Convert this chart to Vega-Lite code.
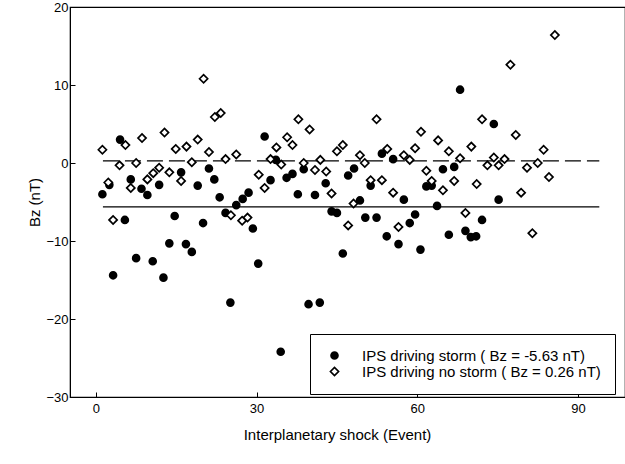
{
  "$schema": "https://vega.github.io/schema/vega-lite/v6.json",
  "width": 555,
  "height": 390,
  "autosize": {"type": "none"},
  "padding": {"left": 70, "top": 7, "right": 0, "bottom": 67},
  "background": "white",
  "config": {
    "view": {"stroke": "black", "strokeWidth": 1.2},
    "font": "Liberation Sans",
    "axis": {"grid": false, "domainColor": "black", "tickColor": "black", "labelColor": "black", "titleColor": "black", "labelFont": "Liberation Sans", "titleFont": "Liberation Sans", "titleFontWeight": "normal", "labelFontSize": 13, "titleFontSize": 15}
  },
  "datasets": {
    "points": [
      {"group": "storm", "event": 1.2, "bz": -4.0},
      {"group": "storm", "event": 2.5, "bz": -2.8},
      {"group": "storm", "event": 4.5, "bz": 3.0},
      {"group": "storm", "event": 3.2, "bz": -14.4},
      {"group": "storm", "event": 5.4, "bz": -7.3},
      {"group": "storm", "event": 6.5, "bz": -2.1},
      {"group": "storm", "event": 7.5, "bz": -12.2},
      {"group": "storm", "event": 8.5, "bz": -3.3},
      {"group": "storm", "event": 9.6, "bz": -4.1},
      {"group": "storm", "event": 10.6, "bz": -12.6},
      {"group": "storm", "event": 11.8, "bz": -2.8},
      {"group": "storm", "event": 12.6, "bz": -14.7},
      {"group": "storm", "event": 13.7, "bz": -10.3},
      {"group": "storm", "event": 14.7, "bz": -6.8},
      {"group": "storm", "event": 15.9, "bz": -1.2},
      {"group": "storm", "event": 16.8, "bz": -10.4},
      {"group": "storm", "event": 17.9, "bz": -11.4},
      {"group": "storm", "event": 19.0, "bz": -2.9},
      {"group": "storm", "event": 20.0, "bz": -7.7},
      {"group": "storm", "event": 21.1, "bz": -0.7},
      {"group": "storm", "event": 22.1, "bz": -2.1},
      {"group": "storm", "event": 23.1, "bz": -4.4},
      {"group": "storm", "event": 24.2, "bz": -6.4},
      {"group": "storm", "event": 25.1, "bz": -17.9},
      {"group": "storm", "event": 26.2, "bz": -5.4},
      {"group": "storm", "event": 27.4, "bz": -4.6},
      {"group": "storm", "event": 28.5, "bz": -3.8},
      {"group": "storm", "event": 29.3, "bz": -8.4},
      {"group": "storm", "event": 30.3, "bz": -12.9},
      {"group": "storm", "event": 31.5, "bz": 3.4},
      {"group": "storm", "event": 32.6, "bz": -2.2},
      {"group": "storm", "event": 33.6, "bz": 0.4},
      {"group": "storm", "event": 34.5, "bz": -24.2},
      {"group": "storm", "event": 35.6, "bz": -1.9},
      {"group": "storm", "event": 36.7, "bz": -1.4},
      {"group": "storm", "event": 37.7, "bz": -4.0},
      {"group": "storm", "event": 38.8, "bz": -0.8},
      {"group": "storm", "event": 39.7, "bz": -18.1},
      {"group": "storm", "event": 40.9, "bz": -4.1},
      {"group": "storm", "event": 41.8, "bz": -17.9},
      {"group": "storm", "event": 42.9, "bz": -2.6},
      {"group": "storm", "event": 44.0, "bz": -6.2},
      {"group": "storm", "event": 45.0, "bz": -6.4},
      {"group": "storm", "event": 46.1, "bz": -11.6},
      {"group": "storm", "event": 47.1, "bz": -1.6},
      {"group": "storm", "event": 48.2, "bz": -0.7},
      {"group": "storm", "event": 49.3, "bz": -4.8},
      {"group": "storm", "event": 50.3, "bz": -7.0},
      {"group": "storm", "event": 51.3, "bz": -2.9},
      {"group": "storm", "event": 52.4, "bz": -7.0},
      {"group": "storm", "event": 53.4, "bz": 1.2},
      {"group": "storm", "event": 54.3, "bz": -9.4},
      {"group": "storm", "event": 55.5, "bz": 0.5},
      {"group": "storm", "event": 56.5, "bz": -10.4},
      {"group": "storm", "event": 57.5, "bz": -4.7},
      {"group": "storm", "event": 58.6, "bz": -7.7},
      {"group": "storm", "event": 59.6, "bz": -6.6},
      {"group": "storm", "event": 60.6, "bz": -11.1},
      {"group": "storm", "event": 61.7, "bz": -3.0},
      {"group": "storm", "event": 62.7, "bz": -2.9},
      {"group": "storm", "event": 63.7, "bz": -5.5},
      {"group": "storm", "event": 64.8, "bz": -0.8},
      {"group": "storm", "event": 65.9, "bz": -9.2},
      {"group": "storm", "event": 66.9, "bz": -0.5},
      {"group": "storm", "event": 68.0, "bz": 9.4},
      {"group": "storm", "event": 69.0, "bz": -8.7},
      {"group": "storm", "event": 70.0, "bz": -9.5},
      {"group": "storm", "event": 71.0, "bz": -9.4},
      {"group": "storm", "event": 72.1, "bz": -7.3},
      {"group": "storm", "event": 74.3, "bz": 5.0},
      {"group": "storm", "event": 75.2, "bz": -4.7},
      {"group": "nostorm", "event": 1.2, "bz": 1.7},
      {"group": "nostorm", "event": 2.3, "bz": -2.5},
      {"group": "nostorm", "event": 3.2, "bz": -7.3},
      {"group": "nostorm", "event": 4.4, "bz": -0.3},
      {"group": "nostorm", "event": 5.5, "bz": 2.3},
      {"group": "nostorm", "event": 6.5, "bz": -3.2},
      {"group": "nostorm", "event": 7.5, "bz": 0.0},
      {"group": "nostorm", "event": 8.6, "bz": 3.2},
      {"group": "nostorm", "event": 9.6, "bz": -2.1},
      {"group": "nostorm", "event": 10.7, "bz": -1.3},
      {"group": "nostorm", "event": 11.8, "bz": -0.6},
      {"group": "nostorm", "event": 12.8, "bz": 3.9},
      {"group": "nostorm", "event": 13.7, "bz": -1.2},
      {"group": "nostorm", "event": 14.9, "bz": 1.8},
      {"group": "nostorm", "event": 15.9, "bz": -2.3},
      {"group": "nostorm", "event": 16.9, "bz": 2.1},
      {"group": "nostorm", "event": 17.9, "bz": 0.1},
      {"group": "nostorm", "event": 19.0, "bz": 3.0},
      {"group": "nostorm", "event": 20.1, "bz": 10.8},
      {"group": "nostorm", "event": 21.1, "bz": 1.4},
      {"group": "nostorm", "event": 22.2, "bz": 5.9},
      {"group": "nostorm", "event": 23.3, "bz": 6.4},
      {"group": "nostorm", "event": 24.2, "bz": 0.5},
      {"group": "nostorm", "event": 25.2, "bz": -6.7},
      {"group": "nostorm", "event": 26.2, "bz": 1.1},
      {"group": "nostorm", "event": 27.3, "bz": -7.4},
      {"group": "nostorm", "event": 28.3, "bz": -7.0},
      {"group": "nostorm", "event": 30.4, "bz": -1.5},
      {"group": "nostorm", "event": 31.5, "bz": -3.2},
      {"group": "nostorm", "event": 32.6, "bz": 0.5},
      {"group": "nostorm", "event": 33.7, "bz": 2.0},
      {"group": "nostorm", "event": 34.6, "bz": -0.2},
      {"group": "nostorm", "event": 35.7, "bz": 3.3},
      {"group": "nostorm", "event": 36.7, "bz": 2.3},
      {"group": "nostorm", "event": 37.8, "bz": 5.6},
      {"group": "nostorm", "event": 38.8, "bz": 0.0},
      {"group": "nostorm", "event": 39.9, "bz": 4.3},
      {"group": "nostorm", "event": 40.9, "bz": -0.9},
      {"group": "nostorm", "event": 41.9, "bz": 0.4},
      {"group": "nostorm", "event": 43.0, "bz": -1.1},
      {"group": "nostorm", "event": 44.0, "bz": -3.9},
      {"group": "nostorm", "event": 45.0, "bz": 1.5},
      {"group": "nostorm", "event": 46.1, "bz": 2.3},
      {"group": "nostorm", "event": 47.1, "bz": -8.0},
      {"group": "nostorm", "event": 48.1, "bz": -5.2},
      {"group": "nostorm", "event": 49.3, "bz": 1.0},
      {"group": "nostorm", "event": 50.2, "bz": 0.0},
      {"group": "nostorm", "event": 51.3, "bz": -2.2},
      {"group": "nostorm", "event": 52.4, "bz": 5.6},
      {"group": "nostorm", "event": 53.4, "bz": -2.2},
      {"group": "nostorm", "event": 54.4, "bz": 1.8},
      {"group": "nostorm", "event": 55.5, "bz": -3.8},
      {"group": "nostorm", "event": 56.5, "bz": -8.2},
      {"group": "nostorm", "event": 57.5, "bz": 1.0},
      {"group": "nostorm", "event": 58.6, "bz": 0.4},
      {"group": "nostorm", "event": 59.6, "bz": 1.9},
      {"group": "nostorm", "event": 60.7, "bz": 4.0},
      {"group": "nostorm", "event": 61.7, "bz": -1.0},
      {"group": "nostorm", "event": 62.7, "bz": -2.3},
      {"group": "nostorm", "event": 63.9, "bz": 2.9},
      {"group": "nostorm", "event": 64.8, "bz": -3.5},
      {"group": "nostorm", "event": 65.9, "bz": 1.5},
      {"group": "nostorm", "event": 66.9, "bz": -2.3},
      {"group": "nostorm", "event": 68.0, "bz": 0.6},
      {"group": "nostorm", "event": 69.0, "bz": -6.4},
      {"group": "nostorm", "event": 70.1, "bz": 2.1},
      {"group": "nostorm", "event": 71.1, "bz": -2.7},
      {"group": "nostorm", "event": 72.1, "bz": 5.6},
      {"group": "nostorm", "event": 73.1, "bz": -0.3},
      {"group": "nostorm", "event": 74.3, "bz": 0.7},
      {"group": "nostorm", "event": 75.2, "bz": -0.3},
      {"group": "nostorm", "event": 76.3, "bz": 0.5},
      {"group": "nostorm", "event": 77.4, "bz": 12.6},
      {"group": "nostorm", "event": 78.4, "bz": 3.6},
      {"group": "nostorm", "event": 79.4, "bz": -3.8},
      {"group": "nostorm", "event": 80.5, "bz": -0.6},
      {"group": "nostorm", "event": 81.5, "bz": -9.0},
      {"group": "nostorm", "event": 82.5, "bz": 0.0},
      {"group": "nostorm", "event": 83.6, "bz": 1.7},
      {"group": "nostorm", "event": 84.6, "bz": -1.8},
      {"group": "nostorm", "event": 85.7, "bz": 16.4}
    ],
    "means": [
      {"kind": "storm mean", "mean": -5.63, "start": 1.3, "end": 94},
      {"kind": "no storm mean", "mean": 0.26, "start": 1.3, "end": 94}
    ]
  },
  "layer": [
    {
      "data": {"name": "means"},
      "mark": {"type": "rule", "color": "black", "strokeWidth": 1.2},
      "encoding": {
        "x": {"field": "start", "type": "quantitative"},
        "x2": {"field": "end"},
        "y": {"field": "mean", "type": "quantitative"},
        "strokeDash": {"field": "kind", "type": "nominal", "scale": {"domain": ["storm mean", "no storm mean"], "range": [[1, 0], [16, 6]]}, "legend": null}
      }
    },
    {
      "data": {"name": "points"},
      "mark": {"type": "point", "filled": true, "strokeWidth": 1.7, "opacity": 1},
      "encoding": {
        "x": {"field": "event", "type": "quantitative", "scale": {"domain": [-4.85, 98.8], "nice": false, "zero": false},
          "axis": {"values": [0, 30, 60, 90], "tickSize": -5, "labelPadding": 10, "title": "Interplanetary shock (Event)", "titlePadding": 12, "titleX": 267}},
        "y": {"field": "bz", "type": "quantitative", "scale": {"domain": [-30, 20], "nice": false},
          "axis": {"values": [-30, -20, -10, 0, 10, 20], "tickSize": -5, "labelPadding": 7, "title": "Bz (nT)", "titlePadding": 3}},
        "shape": {"field": "group", "type": "nominal", "scale": {"domain": ["storm", "nostorm"], "range": ["circle", "diamond"]},
          "legend": {"orient": "none", "legendX": 240, "legendY": 327, "title": null, "strokeColor": "black", "fillColor": "white", "padding": 14, "labelFontSize": 15, "labelFont": "Liberation Sans", "labelColor": "black", "labelLimit": 0, "symbolStrokeWidth": 1.7, "labelOffset": 20, "symbolOffset": 3, "rowPadding": 0,
            "labelExpr": "datum.label == 'storm' ? 'IPS driving storm ( Bz = -5.63 nT)' : 'IPS driving no storm ( Bz = 0.26 nT)'"}},
        "fill": {"field": "group", "type": "nominal", "scale": {"domain": ["storm", "nostorm"], "range": ["black", "white"]}},
        "stroke": {"field": "group", "type": "nominal", "scale": {"domain": ["storm", "nostorm"], "range": ["black", "black"]}},
        "size": {"field": "group", "type": "nominal", "scale": {"domain": ["storm", "nostorm"], "range": [48, 66]}}
      }
    }
  ]
}
